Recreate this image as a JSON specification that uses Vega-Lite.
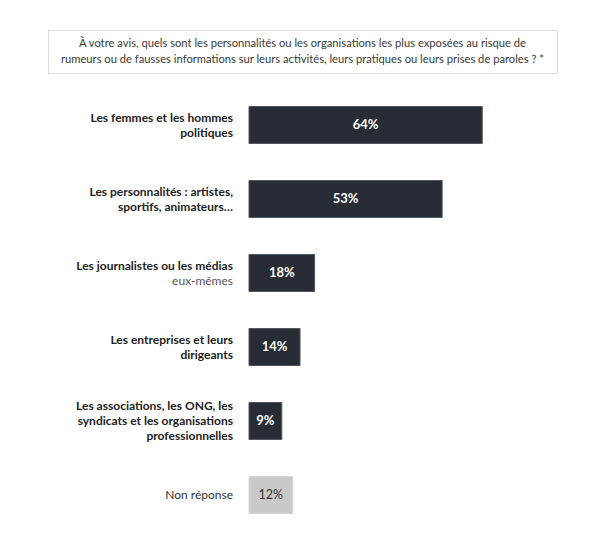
{
  "$schema": "https://vega.github.io/schema/vega-lite/v6.json",
  "padding": {"left": 47, "top": 29, "right": 5, "bottom": 5},
  "bounds": "flush",
  "spacing": 15,
  "background": "white",
  "config": {"font": "Lato", "view": {"stroke": null}},
  "vconcat": [
    {
      "width": 509,
      "height": 43,
      "view": {"stroke": "#dcdcdc", "strokeWidth": 1},
      "data": {"values": [{"q": ["À votre avis, quels sont les personnalités ou les organisations les plus exposées au risque de", "rumeurs ou de fausses informations sur leurs activités, leurs pratiques ou leurs prises de paroles ? *"]}]},
      "mark": {"type": "text", "fontSize": 11.2, "color": "#3a3a3a", "lineHeight": 16, "baseline": "middle", "align": "center", "dy": -8},
      "encoding": {"text": {"field": "q"}}
    },
    {
      "width": 529,
      "height": 444,
      "data": {"values": [
        {"item": "politiques", "value": 64, "label": "64%", "type": "main", "bold": ["Les femmes et les hommes", "politiques"], "light": [""]},
        {"item": "personnalites", "value": 53, "label": "53%", "type": "main", "bold": ["Les personnalités : artistes,", "sportifs, animateurs…"], "light": [""]},
        {"item": "journalistes", "value": 18, "label": "18%", "type": "main", "bold": ["Les journalistes ou les médias", ""], "light": ["", "eux-mêmes"]},
        {"item": "entreprises", "value": 14, "label": "14%", "type": "main", "bold": ["Les entreprises et leurs", "dirigeants"], "light": [""]},
        {"item": "associations", "value": 9, "label": "9%", "type": "main", "bold": ["Les associations, les ONG, les", "syndicats et les organisations", "professionnelles"], "light": [""]},
        {"item": "nr", "value": 12, "label": "12%", "type": "nr", "bold": [""], "light": ["Non réponse"]}
      ]},
      "encoding": {
        "y": {"field": "item", "type": "nominal", "sort": null, "axis": null, "scale": {"paddingInner": 0.5, "paddingOuter": 0.25}}
      },
      "layer": [
        {
          "mark": {"type": "bar", "strokeWidth": 1},
          "encoding": {
            "x": {"field": "value", "type": "quantitative", "axis": null, "scale": {"domain": [0, 90], "range": [201, 529]}},
            "color": {"field": "type", "type": "nominal", "legend": null, "scale": {"domain": ["main", "nr"], "range": ["#272c35", "#c9c9c9"]}},
            "stroke": {"field": "type", "type": "nominal", "legend": null, "scale": {"domain": ["main", "nr"], "range": ["#52565d", "#d6d6d6"]}}
          }
        },
        {
          "transform": [{"filter": "datum.type == 'main'"}],
          "mark": {"type": "text", "fontSize": 13, "fontWeight": "bold", "color": "white", "align": "center", "baseline": "middle"},
          "encoding": {
            "x": {"field": "value", "type": "quantitative", "axis": null, "scale": {"domain": [0, 90], "range": [201, 365]}},
            "text": {"field": "label"}
          }
        },
        {
          "transform": [{"filter": "datum.type == 'nr'"}],
          "mark": {"type": "text", "fontSize": 12.5, "color": "#333333", "align": "center", "baseline": "middle"},
          "encoding": {
            "x": {"field": "value", "type": "quantitative", "axis": null, "scale": {"domain": [0, 90], "range": [201, 365]}},
            "text": {"field": "label"}
          }
        },
        {
          "transform": [{"filter": "length(datum.bold) == 2"}],
          "mark": {"type": "text", "fontSize": 12, "fontWeight": "bold", "color": "#222222", "align": "right", "baseline": "middle", "dx": -16, "dy": -7.5, "lineHeight": 15},
          "encoding": {
            "x": {"datum": 0, "type": "quantitative", "axis": null, "scale": {"domain": [0, 90], "range": [201, 529]}},
            "text": {"field": "bold"}
          }
        },
        {
          "transform": [{"filter": "length(datum.bold) == 3"}],
          "mark": {"type": "text", "fontSize": 12, "fontWeight": "bold", "color": "#222222", "align": "right", "baseline": "middle", "dx": -16, "dy": -15, "lineHeight": 15},
          "encoding": {
            "x": {"datum": 0, "type": "quantitative", "axis": null, "scale": {"domain": [0, 90], "range": [201, 529]}},
            "text": {"field": "bold"}
          }
        },
        {
          "transform": [{"filter": "length(datum.light) == 2"}],
          "mark": {"type": "text", "fontSize": 12, "color": "#555555", "align": "right", "baseline": "middle", "dx": -16, "dy": -7.5, "lineHeight": 15},
          "encoding": {
            "x": {"datum": 0, "type": "quantitative", "axis": null, "scale": {"domain": [0, 90], "range": [201, 529]}},
            "text": {"field": "light"}
          }
        },
        {
          "transform": [{"filter": "length(datum.light) == 1 && datum.light[0] != ''"}],
          "mark": {"type": "text", "fontSize": 12, "color": "#333333", "align": "right", "baseline": "middle", "dx": -16},
          "encoding": {
            "x": {"datum": 0, "type": "quantitative", "axis": null, "scale": {"domain": [0, 90], "range": [201, 529]}},
            "text": {"field": "light"}
          }
        }
      ],
      "resolve": {"scale": {"x": "independent"}}
    }
  ]
}
